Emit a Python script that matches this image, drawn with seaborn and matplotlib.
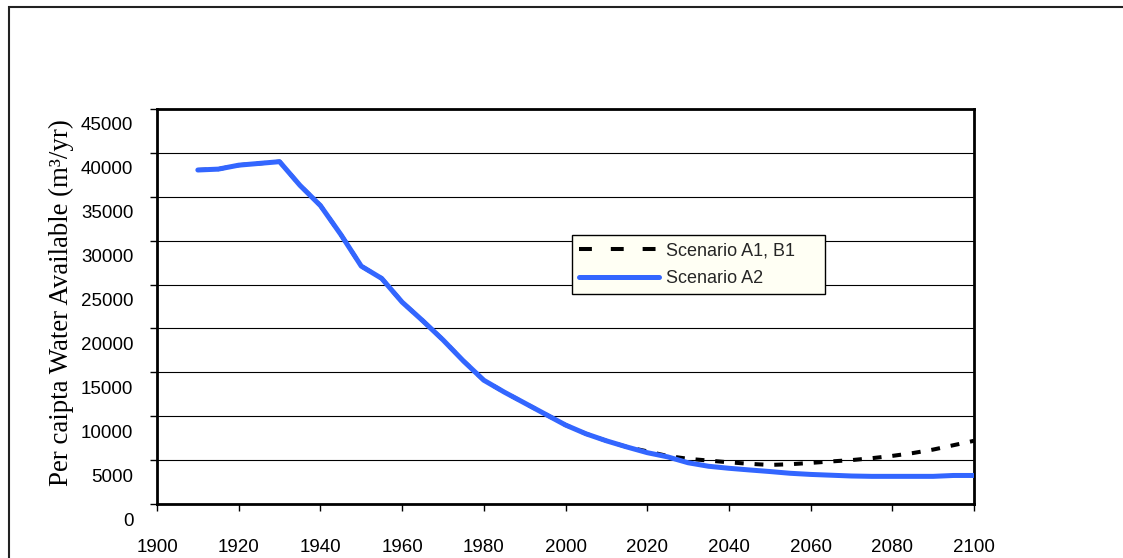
import numpy as np
import pandas as pd
import matplotlib
matplotlib.use("Agg")
import matplotlib.pyplot as plt
import matplotlib.transforms as mtransforms
from matplotlib.patches import Rectangle
import seaborn as sns

years = [1910, 1915, 1920, 1925, 1930, 1935, 1940, 1945, 1950, 1955, 1960, 1965,
         1970, 1975, 1980, 1985, 1990, 1995, 2000, 2005, 2010, 2015, 2020, 2025,
         2030, 2035, 2040, 2045, 2050, 2055, 2060, 2065, 2070, 2075, 2080, 2085,
         2090, 2095, 2100]

scenario_a1b1 = [38050, 38150, 38600, 38800, 39000, 36300, 34000, 30700, 27100,
                 25700, 23000, 20900, 18700, 16300, 14100, 12750, 11500, 10250,
                 9000, 8000, 7200, 6500, 6000, 5470, 5150, 4950, 4750, 4580, 4450,
                 4530, 4680, 4850, 5000, 5220, 5480, 5800, 6200, 6700, 7200]

scenario_a2 = [38050, 38150, 38600, 38800, 39000, 36300, 34000, 30700, 27100,
               25700, 23000, 20900, 18700, 16300, 14100, 12750, 11500, 10250,
               9000, 8000, 7200, 6500, 5850, 5370, 4700, 4300, 4070, 3880, 3700,
               3500, 3370, 3280, 3190, 3150, 3150, 3150, 3150, 3250, 3250]

series_labels = ["Scenario A1, B1", "Scenario A2"]
y_label = "Per caipta Water Available (m³/yr)"
x_ticks = [1900, 1920, 1940, 1960, 1980, 2000, 2020, 2040, 2060, 2080, 2100]
y_ticks = [0, 5000, 10000, 15000, 20000, 25000, 30000, 35000, 40000, 45000]

sns.set_theme(style="white")
plt.rcParams["font.family"] = ["Liberation Sans", "DejaVu Sans"]

fig = plt.figure(figsize=(11.23, 5.58), dpi=100)
ax = fig.add_axes([157 / 1123, 54 / 558, 817 / 1123, 395 / 558])

df1 = pd.DataFrame({"year": years, "value": scenario_a1b1})
df2 = pd.DataFrame({"year": years, "value": scenario_a2})

sns.lineplot(data=df1, x="year", y="value", ax=ax, color="black",
             linewidth=2.9, linestyle=(0, (2.2, 2.7)), label=series_labels[0],
             zorder=3)
sns.lineplot(data=df2, x="year", y="value", ax=ax, color="#3366FF",
             linewidth=3.6, label=series_labels[1], zorder=4)

ax.set_xlim(1900, 2100)
ax.set_ylim(0, 45000)
ax.set_xticks(x_ticks)
ax.set_yticks(y_ticks)
ax.set_xticklabels([str(t) for t in x_ticks])
ax.set_yticklabels([str(t) for t in y_ticks])

ax.yaxis.grid(True, color="black", linewidth=0.8)
ax.xaxis.grid(False)
ax.set_axisbelow(True)

for s in ax.spines.values():
    s.set_visible(True)
    s.set_color("black")
    s.set_linewidth(2.0)

ax.tick_params(axis="both", which="major", direction="out", length=5,
               width=1.0, color="black", labelsize=13.5, labelcolor="black")
ax.tick_params(axis="x", pad=20, bottom=True)
ax.tick_params(axis="y", pad=12, left=True)

offset = mtransforms.ScaledTranslation(0, -15 / 100, fig.dpi_scale_trans)
for lab in ax.get_yticklabels():
    lab.set_transform(lab.get_transform() + offset)

ax.set_xlabel("")
ax.set_ylabel(y_label, family=["Liberation Serif", "DejaVu Serif"],
              fontsize=19.4, color="black")
ax.yaxis.set_label_coords(-0.101, 0.51)

leg = ax.legend(loc="upper left", bbox_to_anchor=(0.508, 0.529, 0.31, 0.152),
                mode="expand",
                frameon=True, fancybox=False, edgecolor="black",
                facecolor="#FFFFF4", framealpha=1, fontsize=13,
                handlelength=4.4, handletextpad=0.4, borderpad=0.4,
                labelspacing=0.6, borderaxespad=0)
leg.get_frame().set_linewidth(1.0)
handles = leg.legend_handles
handles[0].set_linestyle((0, (3.2, 4.7)))

fig.patches.append(Rectangle((9 / 1123, -0.1), 1.2, 1.0875, transform=fig.transFigure,
                             fill=False, edgecolor="#222222", linewidth=1.5))

fig.savefig("out.png", dpi=100, facecolor="white")
